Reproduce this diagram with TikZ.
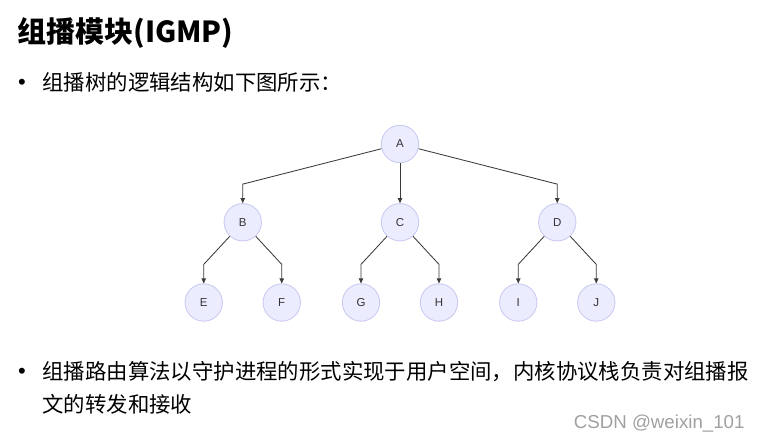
\documentclass[tikz,border=0pt]{standalone}
\usepackage{fontspec}
\setmainfont{Liberation Sans}
\newfontfamily\cjk{Noto Sans CJK SC}
\usetikzlibrary{positioning,arrows.meta}
\definecolor{nodefill}{HTML}{ECECFF}
\definecolor{nodeline}{HTML}{C9C9F2}
\definecolor{edgegray}{HTML}{3A3A3A}
\definecolor{markgray}{HTML}{A0A0A0}
\tikzset{
	mtree/.style={>={Triangle[length=5pt,width=4.5pt]},x=1pt,y=1pt,
		line width=0.85pt,node distance=40pt},
	vertex/.style={circle,draw=nodeline,fill=nodefill,minimum size=37.4pt,
		inner sep=0pt,text=black!80,font=\fontsize{11.5}{13}\selectfont},
	branch/.style={->,draw=edgegray},
	bodytext/.style={inner sep=0pt,anchor=base west,font=\cjk\fontsize{21.4}{33}\selectfont},
	dotmark/.style={inner sep=0pt,anchor=base,font=\fontsize{22}{24}\selectfont}
}

\begin{document}
\begin{tikzpicture}[mtree]
		\useasboundingbox (0,0) rectangle (760,-438);
		
		% heading and bullets
		\node[inner sep=0pt,anchor=base west,font=\cjk\bfseries\fontsize{29}{32}\selectfont]
			(title) at (17,-43) {组播模块(IGMP)};
		\node[dotmark] (dot1) at (22,-90) {•};
		\node[bodytext] (line1) at (42,-91) {组播树的逻辑结构如下图所示：};
		\node[dotmark] (dot2) at (22,-378) {•};
		\node[bodytext,align=left,anchor=north west] (line2) at (42,-361)
			{组播路由算法以守护进程的形式实现于用户空间，内核协议栈负责对组播报\\文的转发和接收};
		\node[inner sep=0pt,anchor=base east,text=markgray,font=\fontsize{18.7}{22}\selectfont]
			(mark) at (745,-428) {CSDN @weixin\_101};
		
		% tree
		\node[vertex] (a) at (400,-144) {A};
		\node[vertex] (c) [below=40pt of a] {C};
		\node[vertex] (b) [left=119pt of c] {B};
		\node[vertex] (d) [right=119pt of c] {D};
		\node[vertex] (e) [below=42pt of b, xshift=-39pt] {E};
		\node[vertex] (f) [below=42pt of b, xshift=39pt] {F};
		\node[vertex] (g) [below=42pt of c, xshift=-39pt] {G};
		\node[vertex] (h) [below=42pt of c, xshift=39pt] {H};
		\node[vertex] (i) [below=42pt of d, xshift=-39pt] {I};
		\node[vertex] (j) [below=42pt of d, xshift=39pt] {J};
		
		\draw[branch] (a) -- ([yshift=19pt]b.north) -- (b);
		\draw[branch] (a) -- (c);
		\draw[branch] (a) -- ([yshift=19pt]d.north) -- (d);
		\foreach \p/\q in {b/e,b/f,c/g,c/h,d/i,d/j}
			\draw[branch] (\p) -- ([yshift=19pt]\q.north) -- (\q);
		
\end{tikzpicture}
\end{document}
